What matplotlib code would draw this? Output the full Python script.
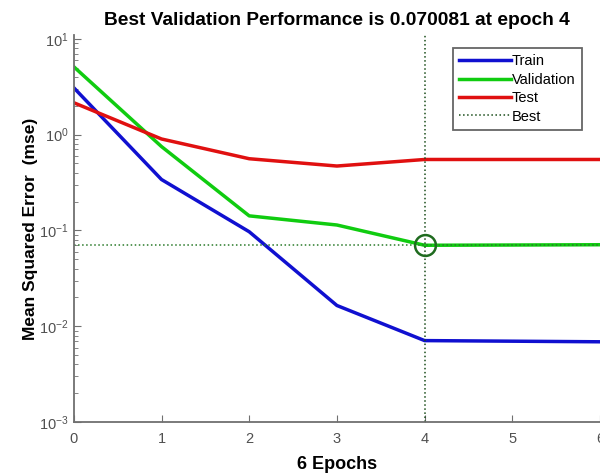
import numpy as np
from matplotlib import pyplot as plt

plt.rcParams['font.family'] = ['Liberation Sans', 'DejaVu Sans']

epochs = [0, 1, 2, 3, 4, 5, 6]
train_mse = [3.08, 0.34, 0.097, 0.0165, 0.0071, 0.0070, 0.0069]
val_mse = [5.1, 0.75, 0.142, 0.114, 0.070081, 0.0705, 0.071]
test_mse = [2.15, 0.90, 0.56, 0.47, 0.55, 0.55, 0.55]
best_epoch = 4
best_perf = 0.070081

fig = plt.figure(figsize=(6, 4.76), dpi=100)
ax = fig.add_axes([0.123, 0.113, 0.877, 0.814])

ax.plot(epochs, train_mse, color='#1010d0', lw=2.5, label='Train')
ax.plot(epochs, val_mse, color='#10cc10', lw=2.5, label='Validation')
ax.plot(epochs, test_mse, color='#e01010', lw=2.5, label='Test')

# best epoch marker + guide lines
ax.axvline(best_epoch, color='#1a4d1a', ls=':', lw=1.1, label='Best')
ax.axhline(best_perf, color='#2a7a2a', ls=':', lw=1.1)
ax.plot([best_epoch], [best_perf], 'o', ms=15, mfc='none', mec='#1f6b1f', mew=1.8)

ax.set_yscale('log')
ax.set_xlim(0, 6)
ax.set_ylim(1e-3, 1.1e1)
ax.set_xticks(epochs)

gray = '#707070'
for s in ['top', 'right']:
    ax.spines[s].set_visible(False)
for s in ['left', 'bottom']:
    ax.spines[s].set_color(gray)
    ax.spines[s].set_linewidth(1.3)
ax.tick_params(which='both', direction='in', colors=gray, labelcolor='#505050', labelsize=10.5)
ax.tick_params(which='major', length=5)
ax.tick_params(which='minor', length=3)
ax.tick_params(axis='x', pad=7)

ax.set_title('Best Validation Performance is 0.070081 at epoch 4',
             fontsize=13.8, fontweight='bold', pad=7)
ax.set_xlabel('6 Epochs', fontsize=13, fontweight='bold', labelpad=7)
ax.set_ylabel('Mean Squared Error  (mse)', fontsize=12.5, fontweight='bold', labelpad=1)

leg = ax.legend(loc='upper right', bbox_to_anchor=(0.98, 0.985), fontsize=10.5,
                handlelength=3.5, handletextpad=0.1, labelspacing=0.3,
                borderpad=0.45, fancybox=False, framealpha=1)
leg.get_frame().set_edgecolor('#666666')
leg.get_frame().set_linewidth(1.3)

plt.savefig('out.png', dpi=100)
